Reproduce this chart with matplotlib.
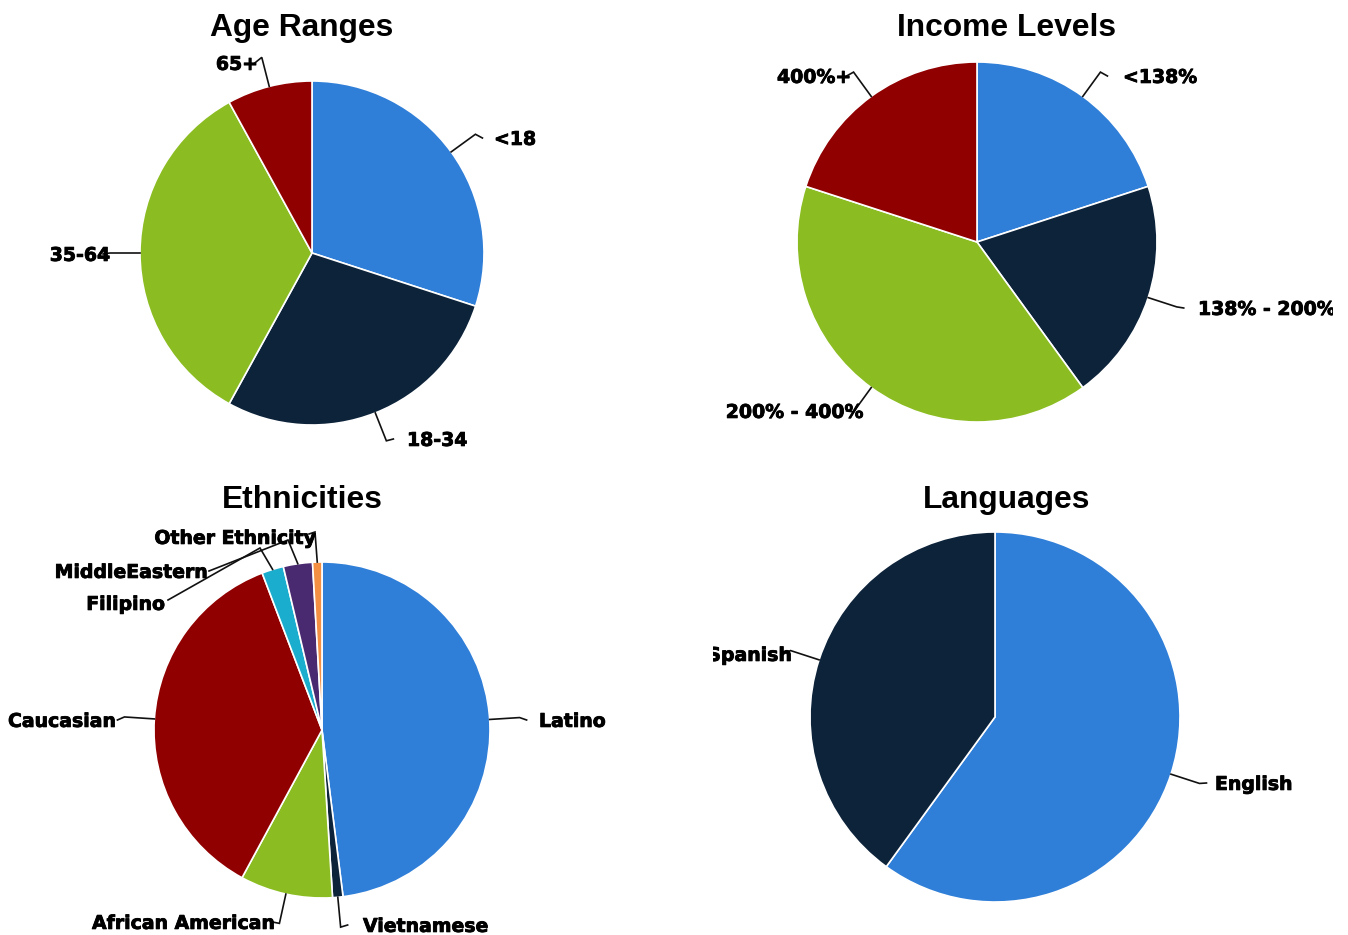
import matplotlib
matplotlib.use('Agg')
import matplotlib.pyplot as plt
import matplotlib.patheffects as pe
import numpy as np
from matplotlib.transforms import Bbox, TransformedBbox

W, H = 1348, 935

# ---------------- data ----------------
age_labels = ['<18', '18-34', '35-64', '65+']
age_values = [30, 28, 34, 8]

income_labels = ['<138%', '138% - 200%', '200% - 400%', '400%+']
income_values = [20, 20, 40, 20]

eth_labels = ['Latino', 'Vietnamese', 'African American', 'Caucasian',
              'Filipino', 'MiddleEastern', 'Other Ethnicity']
eth_values = [48.0, 1.0, 8.9, 36.3, 2.1, 2.8, 0.9]

lang_labels = ['English', 'Spanish']
lang_values = [60, 40]

# ---------------- style / layout ----------------
palette = ['#2f7ed8', '#0d233a', '#8bbc21', '#910000', '#1aadce', '#492970', '#f28f43']

# label anchors in pixel coords: (x, visual-center y, ha)
charts = [
    dict(title='Age Ranges', tpos=(302, 25), center=(312, 253), r=172,
         labels=age_labels, values=age_values,
         lpos=[(494, 138, 'left'), (407, 439, 'left'), (110, 254, 'right'), (258, 63, 'right')],
         overrides={}, clip=None),
    dict(title='Income Levels', tpos=(1006.5, 25), center=(977, 242), r=180,
         labels=income_labels, values=income_values,
         lpos=[(1123, 76, 'left'), (1198, 308, 'left'), (863, 411, 'right'), (851, 76, 'right')],
         overrides={}, clip=(713, 1333)),
    dict(title='Ethnicities', tpos=(302.5, 497), center=(322, 730), r=168,
         labels=eth_labels, values=eth_values,
         lpos=[(539, 720, 'left'), (363, 925, 'left'), (275, 922, 'right'), (116, 720, 'right'),
               (165, 603, 'right'), (208, 571, 'right'), (316, 537, 'right')],
         overrides={4: [(168, 600), (260, 548)],
                    5: [(209, 571), (288, 540)],
                    6: [(309, 534), (315, 532)]},
         clip=None),
    dict(title='Languages', tpos=(1006.5, 497), center=(995, 717), r=185,
         labels=lang_labels, values=lang_values,
         lpos=[(1215, 783, 'left'), (792, 654, 'right')],
         overrides={}, clip=(713, 1333)),
]

fig = plt.figure(figsize=(W / 100, H / 100), dpi=100)
ax = fig.add_axes([0, 0, 1, 1])


def Y(y):
    return H - y


label_font = dict(family='DejaVu Sans', weight='bold', size=13.6, color='#000000')
title_font = dict(family='Liberation Sans', weight='bold', size=22.9, color='#000000')
label_fx = [pe.withStroke(linewidth=0.6, foreground='#000000')]

for ch in charts:
    cx, cyp = ch['center']
    r = ch['r']
    n = len(ch['values'])
    wedges, _ = ax.pie(ch['values'], colors=palette[:n], startangle=90, counterclock=False,
                       center=(cx, Y(cyp)), radius=r,
                       wedgeprops=dict(edgecolor='white', linewidth=1.2))
    clipbox = None
    if ch['clip'] is not None:
        clipbox = TransformedBbox(Bbox([[ch['clip'][0], 0], [ch['clip'][1], H]]), ax.transData)
    for i, (w, lab) in enumerate(zip(wedges, ch['labels'])):
        m = np.deg2rad((w.theta1 + w.theta2) / 2)
        ex, ey = cx + r * np.cos(m), Y(cyp) + r * np.sin(m)
        lx, lcy, ha = ch['lpos'][i]
        if i in ch['overrides']:
            (hx, hy), (bx, by) = ch['overrides'][i]
            by = Y(by)
            hy = Y(hy)
        else:
            bx, by = cx + (r + 30) * np.cos(m), Y(cyp) + (r + 30) * np.sin(m)
            hx = bx + (7 if ha == 'left' else -7)
            hy = Y(lcy)
        ax.plot([hx, bx, ex], [hy, by, ey], color='#111111', lw=1.2, zorder=3,
                solid_joinstyle='miter')
        t = ax.text(lx, Y(lcy + 6.9), lab, ha=ha, va='baseline', zorder=4,
                    path_effects=label_fx, **label_font)
        if clipbox is not None:
            t.set_clip_on(True)
            t.set_clip_box(clipbox)
    tx, tcy = ch['tpos']
    ax.text(tx, Y(tcy + 11.4), ch['title'], ha='center', va='baseline', **title_font)

ax.set_xlim(0, W)
ax.set_ylim(0, H)
ax.set_aspect('auto')
ax.axis('off')

fig.savefig('out.png', dpi=100)
